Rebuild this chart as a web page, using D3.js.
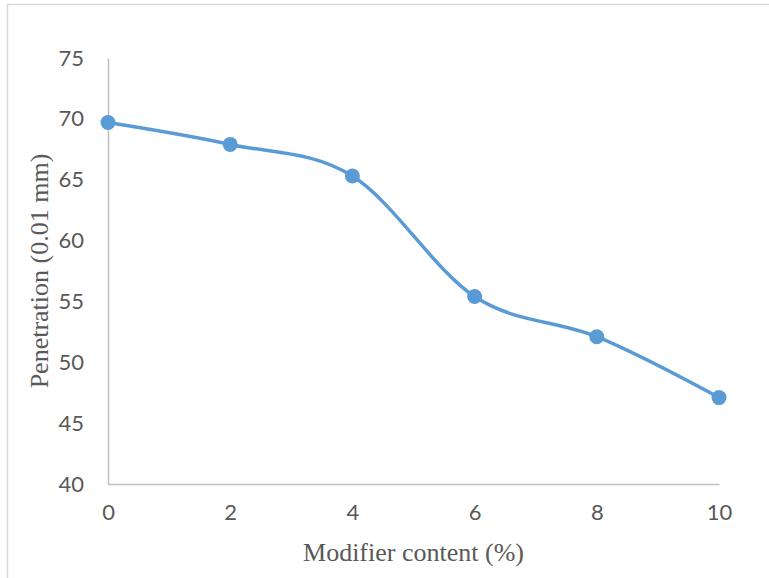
<!DOCTYPE html>
<html>
<head>
<meta charset="utf-8">
<script src="https://cdn.jsdelivr.net/npm/d3@7"></script>
<style>
  html, body { margin: 0; padding: 0; background: #fff; }
  svg { display: block; }
</style>
</head>
<body>
<svg id="chart" width="769" height="578"></svg>
<script>
// Penetration vs. modifier content
const modifierContent = [0, 2, 4, 6, 8, 10];
const penetration = [69.7, 67.9, 65.3, 55.4, 52.1, 47.1];
const xTicks = [0, 2, 4, 6, 8, 10];
const yTicks = [40, 45, 50, 55, 60, 65, 70, 75];
const xTitle = "Modifier content (%)";
const yTitle = "Penetration (0.01 mm)";

const svg = d3.select("#chart");
const W = 769, H = 578;
const plot = { left: 108, right: 719, top: 58, bottom: 484 };

// chart area frame (top and left edges visible)
svg.append("path")
  .attr("d", `M7.5,${H} V4.5 H${W}`)
  .attr("fill", "none")
  .attr("stroke", "#d9d9d9")
  .attr("stroke-width", 1.5);

const x = d3.scaleLinear().domain([0, 10]).range([plot.left, plot.right]);
const y = d3.scaleLinear().domain([40, 75]).range([plot.bottom, plot.top]);

const tickFont = "Lato, 'Open Sans', sans-serif";

// y axis
const yAxis = svg.append("g")
  .attr("transform", `translate(${plot.left},0)`)
  .call(d3.axisLeft(y).tickValues(yTicks).tickSize(0).tickPadding(24));
yAxis.select(".domain").attr("stroke", "#bfbfbf").attr("stroke-width", 1.5);
yAxis.selectAll("text")
  .attr("fill", "#595959")
  .style("font-family", tickFont)
  .style("font-size", "22px");

// x axis
const xAxis = svg.append("g")
  .attr("transform", `translate(0,${plot.bottom})`)
  .call(d3.axisBottom(x).tickValues(xTicks).tickSize(0).tickPadding(20));
xAxis.select(".domain").attr("stroke", "#bfbfbf").attr("stroke-width", 1.5);
xAxis.selectAll("text")
  .attr("fill", "#595959")
  .style("font-family", tickFont)
  .style("font-size", "22px");

// axis titles
svg.append("text")
  .attr("x", (plot.left + plot.right) / 2)
  .attr("y", 561)
  .attr("text-anchor", "middle")
  .attr("fill", "#595959")
  .style("font-family", "'Liberation Serif', 'Times New Roman', serif")
  .style("font-size", "26px")
  .text(xTitle);

svg.append("text")
  .attr("transform", `translate(48,${(plot.top + plot.bottom) / 2}) rotate(-90)`)
  .attr("text-anchor", "middle")
  .attr("fill", "#595959")
  .style("font-family", "'Liberation Serif', 'Times New Roman', serif")
  .style("font-size", "26px")
  .text(yTitle);

// smoothed series line
const pts = modifierContent.map((d, i) => [d, penetration[i]]);
const line = d3.line()
  .x(d => x(d[0]))
  .y(d => y(d[1]))
  .curve(d3.curveCatmullRom.alpha(0));

svg.append("path")
  .datum(pts)
  .attr("d", line)
  .attr("fill", "none")
  .attr("stroke", "#5b9bd5")
  .attr("stroke-width", 3.5)
  .attr("stroke-linecap", "round");

// markers
svg.append("g")
  .selectAll("circle")
  .data(pts)
  .join("circle")
  .attr("cx", d => x(d[0]))
  .attr("cy", d => y(d[1]))
  .attr("r", 7.5)
  .attr("fill", "#5b9bd5");
</script>
</body>
</html>
